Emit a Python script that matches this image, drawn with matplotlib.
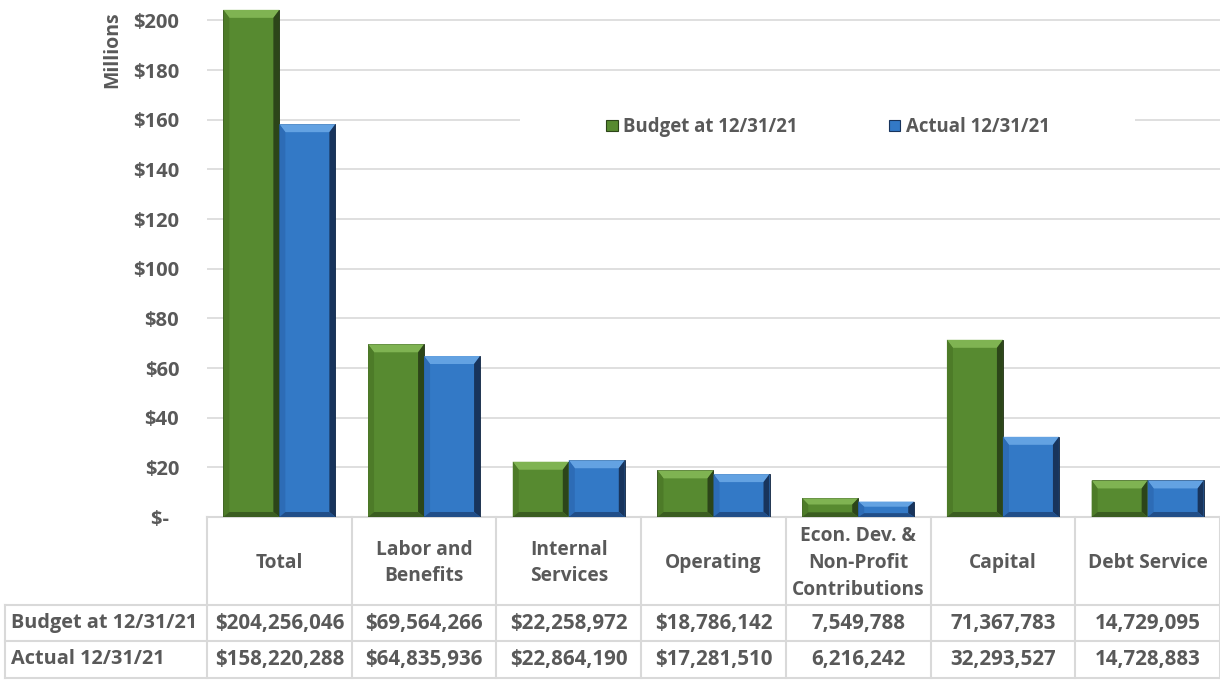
import numpy as np
import matplotlib.pyplot as plt
from matplotlib.patches import Polygon, Rectangle
from matplotlib.transforms import blended_transform_factory

plt.rcParams['font.family'] = ['Open Sans', 'DejaVu Sans']
plt.rcParams['font.weight'] = 'bold'

# Data
categories = ["Total", "Labor and\nBenefits", "Internal\nServices", "Operating",
              "Econ. Dev. &\nNon-Profit\nContributions", "Capital", "Debt Service"]
budget = [204256046, 69564266, 22258972, 18786142, 7549788, 71367783, 14729095]
actual = [158220288, 64835936, 22864190, 17281510, 6216242, 32293527, 14728883]
budget_labels = ["$204,256,046", "$69,564,266", "$22,258,972", "$18,786,142",
                 "7,549,788", "71,367,783", "14,729,095"]
actual_labels = ["$158,220,288", "$64,835,936", "$22,864,190", "$17,281,510",
                 "6,216,242", "32,293,527", "14,728,883"]
series_names = ["Budget at 12/31/21", "Actual 12/31/21"]
yticks = [0, 20, 40, 60, 80, 100, 120, 140, 160, 180, 200]

TXT = '#595959'
GRID = '#d9d9d9'
W, H = 1220, 681

# face, top, left, right, bottom
GREEN = ['#578a30', '#7fb352', '#4d7b28', '#2c4519', '#3b5d21']
BLUE = ['#3379c6', '#63a2e2', '#2d6cb6', '#18345c', '#214e88']

fig = plt.figure(figsize=(W / 100, H / 100), dpi=100)
ax = fig.add_axes([207 / W, 1 - 517 / H, 1013 / W, 509 / H])

n = len(categories)
x = np.arange(n)
bw = 0.387
xpx = 1013 / 7          # px per category
ypx = 509 / 205         # px per million


def bevel_bar(x0, w, h, cols):
    face, top, left, right, bot = cols
    bx = min(6 / xpx, w / 4)
    by = min(8 / ypx, h / 3)
    bs = min(5 / ypx, h / 4)
    ax.add_patch(Rectangle((x0, 0), w, h, facecolor=face, edgecolor='#1c2b12' if face == GREEN[0] else '#10213a',
                           linewidth=0.6, zorder=3))
    ax.add_patch(Polygon([(x0, h), (x0 + w, h), (x0 + w - bx, h - by), (x0 + bx, h - by)],
                         closed=True, facecolor=top, edgecolor='none', zorder=4))
    ax.add_patch(Polygon([(x0, 0), (x0, h), (x0 + bx, h - by), (x0 + bx, bs)],
                         closed=True, facecolor=left, edgecolor='none', zorder=4))
    ax.add_patch(Polygon([(x0 + w, 0), (x0 + w, h), (x0 + w - bx, h - by), (x0 + w - bx, bs)],
                         closed=True, facecolor=right, edgecolor='none', zorder=4))
    ax.add_patch(Polygon([(x0, 0), (x0 + w, 0), (x0 + w - bx, bs), (x0 + bx, bs)],
                         closed=True, facecolor=bot, edgecolor='none', zorder=4))


b_m = np.array(budget) / 1e6
a_m = np.array(actual) / 1e6
for i in range(n):
    bevel_bar(x[i] - bw, bw, b_m[i], GREEN)
    bevel_bar(x[i], bw, a_m[i], BLUE)

ax.set_xlim(-0.5, n - 0.5)
ax.set_ylim(0, 205)
ax.set_yticks(yticks)
ax.set_yticklabels(["$-  "] + [f"${v}" for v in yticks[1:]])
ax.tick_params(axis='y', length=0, pad=20, labelsize=14.5, labelcolor=TXT)
ax.set_xticks([])
for s in ax.spines.values():
    s.set_visible(False)
ax.grid(axis='y', color=GRID, linewidth=1.2, zorder=0)
ax.set_axisbelow(True)

fig.text(112 / W, 1 - 50 / H, "Millions", rotation=90, ha='center', va='center',
         fontsize=14, color=TXT)

# Legend with white mask behind it
fig.patches.append(Rectangle((520 / W, 1 - 150 / H), 615 / W, 45 / H, transform=fig.transFigure,
                             facecolor='white', edgecolor='none', zorder=1))
handles = [Rectangle((0, 0), 1, 1, facecolor=GREEN[0], edgecolor='#2c4519', linewidth=0.8),
           Rectangle((0, 0), 1, 1, facecolor=BLUE[0], edgecolor='#18345c', linewidth=0.8)]
leg = fig.legend(handles, series_names, loc='center', bbox_to_anchor=(828 / W, 1 - 127 / H),
                 ncol=2, frameon=False, fontsize=13.4, handlelength=0.6, handleheight=0.6,
                 handletextpad=0.3, columnspacing=4.9, labelcolor=TXT)
leg.set_zorder(5)

# Data table below the plot
tr = blended_transform_factory(ax.transData, fig.transFigure)
y_top, y_hdr, y_mid, y_bot = [1 - v / H for v in (517, 605, 641, 678)]
x_left = -0.5 - 202 / xpx
line_kw = dict(color=GRID, linewidth=1.5, transform=tr, clip_on=False)

ax.plot([-0.5, n - 0.5], [y_top, y_top], **line_kw)
for yy in (y_hdr, y_mid, y_bot):
    ax.plot([x_left, n - 0.5], [yy, yy], **line_kw)
for k in range(n + 1):
    ax.plot([k - 0.5, k - 0.5], [y_top, y_bot], **line_kw)
ax.plot([x_left, x_left], [y_hdr, y_bot], **line_kw)

for i in range(n):
    ax.text(x[i], 1 - 563 / H, categories[i], transform=tr, ha='center', va='center',
            fontsize=13.8, color=TXT, linespacing=1.45)
    ax.text(x[i], (y_hdr + y_mid) / 2, budget_labels[i], transform=tr, ha='center', va='center',
            fontsize=14.8, color=TXT)
    ax.text(x[i], (y_mid + y_bot) / 2, actual_labels[i], transform=tr, ha='center', va='center',
            fontsize=14.8, color=TXT)
for name, yy in zip(series_names, ((y_hdr + y_mid) / 2, (y_mid + y_bot) / 2)):
    ax.text(x_left + 6 / xpx, yy, name, transform=tr, ha='left', va='center',
            fontsize=14.3, color=TXT)

fig.savefig('out.png', dpi=100, facecolor='white')
